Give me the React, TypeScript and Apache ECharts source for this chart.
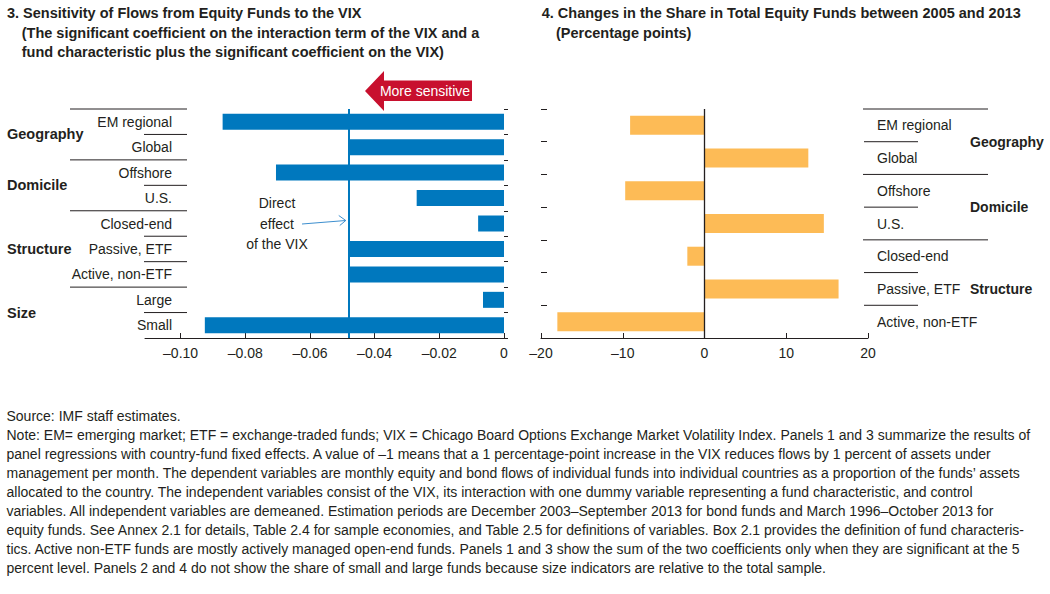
import React, { useEffect, useRef } from 'react';
import * as echarts from 'echarts';

// ---------- data ----------
const leftCategories = ['EM regional', 'Global', 'Offshore', 'U.S.', 'Closed-end', 'Passive, ETF', 'Active, non-ETF', 'Large', 'Small'];
const leftValues = [-0.087, -0.048, -0.0705, -0.027, -0.008, -0.048, -0.048, -0.0065, -0.0925];
const directVixEffect = -0.048;
const leftTicks = [-0.1, -0.08, -0.06, -0.04, -0.02, 0];
const leftGroups = [
  { name: 'Geography', from: 0, to: 1 },
  { name: 'Domicile', from: 2, to: 3 },
  { name: 'Structure', from: 4, to: 6 },
  { name: 'Size', from: 7, to: 8 },
];

const rightCategories = ['EM regional', 'Global', 'Offshore', 'U.S.', 'Closed-end', 'Passive, ETF', 'Active, non-ETF'];
const rightValues = [-9.1, 12.7, -9.7, 14.6, -2.1, 16.4, -18.0];
const rightGroups = [
  { name: 'Geography', from: 0, to: 1 },
  { name: 'Domicile', from: 2, to: 3 },
  { name: 'Structure', from: 4, to: 6 },
];

const leftTitle = [
  '3. Sensitivity of Flows from Equity Funds to the VIX',
  '(The significant coefficient on the interaction term of the VIX and a',
  'fund characteristic plus the significant coefficient on the VIX)',
];
const rightTitle = [
  '4. Changes in the Share in Total Equity Funds between 2005 and 2013',
  '(Percentage points)',
];
const footerLines = [
  'Source: IMF staff estimates.',
  'Note: EM= emerging market; ETF = exchange-traded funds; VIX = Chicago Board Options Exchange Market Volatility Index. Panels 1 and 3 summarize the results of',
  'panel regressions with country-fund fixed effects. A value of –1 means that a 1 percentage-point increase in the VIX reduces flows by 1 percent of assets under',
  'management per month. The dependent variables are monthly equity and bond flows of individual funds into individual countries as a proportion of the funds’ assets',
  'allocated to the country. The independent variables consist of the VIX, its interaction with one dummy variable representing a fund characteristic, and control',
  'variables. All independent variables are demeaned. Estimation periods are December 2003–September 2013 for bond funds and March 1996–October 2013 for',
  'equity funds. See Annex 2.1 for details, Table 2.4 for sample economies, and Table 2.5 for definitions of variables. Box 2.1 provides the definition of fund characteris-',
  'tics. Active non-ETF funds are mostly actively managed open-end funds. Panels 1 and 3 show the sum of the two coefficients only when they are significant at the 5',
  'percent level. Panels 2 and 4 do not show the share of small and large funds because size indicators are relative to the total sample.',
];

// ---------- style ----------
const FONT = "'Liberation Sans', Arial, sans-serif";
const INK = '#231f20';
const BLUE = '#0078be';
const ORANGE = '#fdbb56';
const RED = '#c8102e';

const fmtLeft = (v: number) => (Math.abs(v) < 1e-9 ? '0' : '–' + Math.abs(v).toFixed(2));
const fmtRight = (v: number) => (v < 0 ? '–' + Math.abs(v) : String(v));

export default function App() {
  const ref = useRef<HTMLDivElement>(null);

  useEffect(() => {
    document.body.style.margin = '0';
    const chart = echarts.init(ref.current!, null, { renderer: 'svg' });

    const axisLabelStyle = { color: INK, fontFamily: FONT, fontSize: 14 };

    chart.setOption({
      animation: false,
      textStyle: { fontFamily: FONT, color: INK },
      grid: [
        { left: 145, right: 546, top: 109, bottom: 256 },
        { left: 541, right: 182, top: 109, bottom: 256 },
      ],
      xAxis: [
        {
          type: 'value', gridIndex: 0, min: -0.111, max: 0,
          axisLine: { show: true, lineStyle: { color: INK, width: 1 } },
          axisTick: { show: true, inside: true, length: 5, customValues: leftTicks, lineStyle: { color: INK } },
          axisLabel: { ...axisLabelStyle, margin: 8, customValues: leftTicks, formatter: fmtLeft },
          splitLine: { show: false },
        },
        {
          type: 'value', gridIndex: 1, min: -20, max: 20, interval: 10,
          axisLine: { show: true, onZero: false, lineStyle: { color: INK, width: 1 } },
          axisTick: { show: true, inside: true, length: 5, lineStyle: { color: INK } },
          axisLabel: { ...axisLabelStyle, margin: 8, formatter: fmtRight },
          splitLine: { show: false },
        },
      ],
      yAxis: [
        {
          type: 'category', gridIndex: 0, data: leftCategories, inverse: true, position: 'right',
          axisLine: { show: false },
          axisTick: { show: true, length: 4, lineStyle: { color: INK } },
          axisLabel: { show: false },
        },
        {
          type: 'category', gridIndex: 0, data: leftCategories, inverse: true, position: 'left', offset: -27,
          axisLine: { show: false }, axisTick: { show: false },
          axisLabel: { ...axisLabelStyle, margin: 0 },
        },
        {
          type: 'category', gridIndex: 1, data: rightCategories, inverse: true, position: 'left',
          axisLine: { show: false, onZero: false },
          axisTick: { show: true, inside: true, length: 6, lineStyle: { color: INK } },
          axisLabel: { show: false },
        },
        {
          type: 'category', gridIndex: 1, data: rightCategories, inverse: true, position: 'right',
          axisLine: { show: false, onZero: false }, axisTick: { show: false },
          axisLabel: { ...axisLabelStyle, margin: 9, align: 'left' },
        },
      ],
      series: [
        {
          type: 'bar', xAxisIndex: 0, yAxisIndex: 0, data: leftValues, barWidth: 16,
          itemStyle: { color: BLUE },
          markLine: {
            silent: true, symbol: 'none', label: { show: false }, precision: 6,
            lineStyle: { color: BLUE, width: 2, type: 'solid' },
            data: [{ xAxis: directVixEffect }],
          },
        },
        {
          type: 'bar', xAxisIndex: 1, yAxisIndex: 2, data: rightValues, barWidth: 19,
          itemStyle: { color: ORANGE },
          markLine: {
            silent: true, symbol: 'none', label: { show: false }, precision: 6,
            lineStyle: { color: INK, width: 1.3, type: 'solid' },
            data: [{ xAxis: 0 }],
          },
        },
      ],
    });

    // decorations computed from axis positions
    const g: any[] = [];
    const text = (x: number, y: number, t: string, opts: any = {}) =>
      g.push({
        type: 'text', x, y, silent: true,
        style: {
          text: t, fill: opts.fill || INK, fontFamily: FONT, fontSize: opts.size || 14,
          fontWeight: opts.bold ? 'bold' : 'normal', align: opts.align || 'left', verticalAlign: 'middle',
        },
      });
    const line = (x1: number, y1: number, x2: number, y2: number, stroke = INK, w = 1) =>
      g.push({ type: 'line', silent: true, shape: { x1, y1, x2, y2 }, style: { stroke, lineWidth: w } });

    // titles
    text(7, 12.7, leftTitle[0], { bold: true, size: 14.5 });
    text(21.7, 32.7, leftTitle[1], { bold: true, size: 14.5 });
    text(21.7, 52, leftTitle[2], { bold: true, size: 14.5 });
    text(541.7, 12.7, rightTitle[0], { bold: true, size: 14.5 });
    text(556, 32.7, rightTitle[1], { bold: true, size: 14.5 });

    // footer
    const footY = [416, 435, 454, 472.7, 491.7, 510.7, 530, 549.3, 568.3];
    footerLines.forEach((l, i) => text(6.5, footY[i], l, { size: 14 }));

    // left table separators & group labels
    const lc = (i: number) => chart.convertToPixel({ yAxisIndex: 0 }, i) as number;
    const lBand = lc(1) - lc(0);
    leftGroups.forEach((grp) => {
      const top = lc(grp.from) - lBand / 2;
      line(70, top, 187, top);
      for (let i = grp.from + 1; i <= grp.to; i++) {
        const b = lc(i) - lBand / 2;
        line(144, b, 187, b);
      }
      const mid = (lc(grp.from) + lc(grp.to)) / 2;
      text(7, mid, grp.name, { bold: true, size: 14.5 });
    });

    // right table separators & group labels
    const rc = (i: number) => chart.convertToPixel({ yAxisIndex: 2 }, i) as number;
    const rBand = rc(1) - rc(0);
    rightGroups.forEach((grp) => {
      const top = rc(grp.from) - rBand / 2;
      line(863, top, 988, top);
      for (let i = grp.from + 1; i <= grp.to; i++) {
        const b = rc(i) - rBand / 2;
        line(864, b, 918, b);
      }
      const mid = (rc(grp.from) + rc(grp.to)) / 2;
      text(970, mid, grp.name, { bold: true, size: 14 });
    });

    // "More sensitive" arrow
    g.push({
      type: 'polygon', silent: true,
      shape: { points: [[365, 91], [384, 71], [384, 80.5], [472, 80.5], [472, 101], [384, 101], [384, 111]] },
      style: { fill: RED },
    });
    text(425, 91, 'More sensitive', { fill: '#ffffff', size: 14, align: 'center' });

    // Direct effect annotation
    const dx = chart.convertToPixel({ xAxisIndex: 0 }, directVixEffect) as number;
    text(277, 203, 'Direct', { align: 'center' });
    text(277, 223.5, 'effect', { align: 'center' });
    text(277, 244, 'of the VIX', { align: 'center' });
    line(302, 224, dx - 3, 220.5, '#3d8fcf', 1);
    g.push({
      type: 'polyline', silent: true,
      shape: { points: [[dx - 10, 215.5], [dx - 3, 220.5], [dx - 9, 225.5]] },
      style: { stroke: '#3d8fcf', lineWidth: 1, fill: 'none' },
    });

    chart.setOption({ graphic: { elements: g } });

    return () => chart.dispose();
  }, []);

  return <div ref={ref} style={{ width: 1050, height: 594 }} />;
}
